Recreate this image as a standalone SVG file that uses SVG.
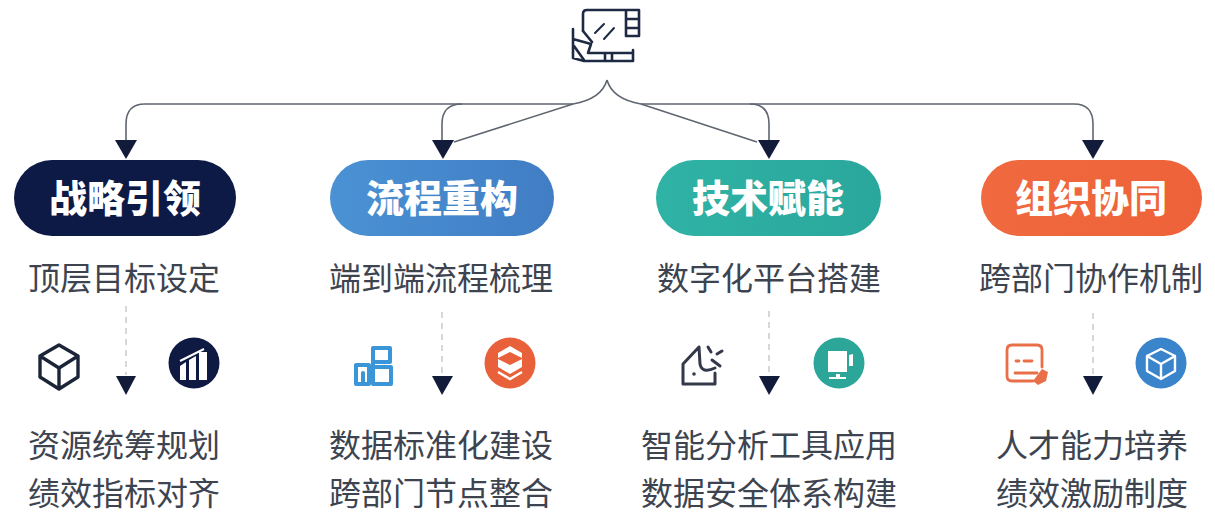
<svg xmlns="http://www.w3.org/2000/svg" width="1215" height="522" viewBox="0 0 1215 522">
<style>
text{font-family:"Noto Sans CJK SC","Noto Sans",sans-serif;text-anchor:middle}
.t{font-size:38px;font-weight:900;fill:#fff}
.s{font-size:32px;font-weight:400;fill:#3d4450}
.c{fill:none;stroke:#5f6670;stroke-width:1.6}
.d{fill:none;stroke:#c4c8cc;stroke-width:1.4;stroke-dasharray:6 5}
.h{fill:#121b3a}
.i{fill:none;stroke-linejoin:round;stroke-linecap:round}
</style>
<defs>
<linearGradient id="gb" x1="0" x2="1" y1="0" y2="0"><stop offset="0" stop-color="#4a92d4"/><stop offset="1" stop-color="#417dc4"/></linearGradient>
<linearGradient id="gt" x1="0" x2="1" y1="0" y2="0"><stop offset="0" stop-color="#2fb3a5"/><stop offset="1" stop-color="#2aa79c"/></linearGradient>
<linearGradient id="go" x1="0" x2="1" y1="0" y2="0"><stop offset="0" stop-color="#f0693f"/><stop offset="1" stop-color="#ee6239"/></linearGradient>
</defs>
<rect width="1215" height="522" fill="#fff"/>
<g id="connectors">
<path class="c" d="M607 80C603 94 590 101 573 104H145Q126 104 126 124V142"/>
<path class="c" d="M462 104Q442 104 442 124V142"/>
<path class="c" d="M573 104L454 142"/>
<path class="c" d="M607 80C611 94 624 101 641 104H1074Q1093 104 1093 124V142"/>
<path class="c" d="M750 104Q769 104 769 124V142"/>
<path class="c" d="M641 104L757 142"/>
<path class="h" d="M115 140H137L126 159Z"/>
<path class="h" d="M432 140H454L443 159Z"/>
<path class="h" d="M758 140H780L769 159Z"/>
<path class="h" d="M1082 140H1104L1093 159Z"/>
<path class="d" d="M126 306V375"/><path class="d" d="M442 312V375"/><path class="d" d="M769 311V375"/><path class="d" d="M1093 313V375"/>
<path class="h" d="M116 376H136L126 395Z"/>
<path class="h" d="M432 376H453L442 395Z"/>
<path class="h" d="M759 376H780L769 395Z"/>
<path class="h" d="M1083 376H1103L1093 395Z"/>
</g>
<g id="top-icon" class="i" stroke="#1e2a44" stroke-width="2.6">
<path d="M583 31V14Q583 10 587 10H639V36H626V10M626 19H639M626 28H639"/>
<path d="M583 31L592 42"/>
<path d="M595 33L604 24M604 39L614 28" stroke-width="2"/>
<path d="M573 29V58L584 61H633V50M573 39L591 44L588 53H633M574 46L584 60M605 54V61M612 54V61"/>
</g>
<g id="node-strategy">
<rect x="14" y="160" width="222" height="76" rx="38" fill="#0d1a45"/>
<text class="t" x="125" y="212">战略引领</text>
<text class="s" x="124" y="290">顶层目标设定</text>
<g class="i" stroke="#1c2438" stroke-width="3.4"><path d="M59 345L78 356V377L59 389L40 377V356ZM40 356L59 368L78 356M59 368V389"/></g>
<circle cx="194" cy="363" r="25.5" fill="#0e1a42"/>
<path fill="#fff" d="M180 366L186 362V380H180ZM189 360L196 356V380H189ZM199 352H207V380H199Z"/>
<path d="M180 361L204 349" stroke="#fff" stroke-width="2" fill="none"/>
<text class="s" x="124" y="457">资源统筹规划</text>
<text class="s" x="124" y="505">绩效指标对齐</text>
</g>
<g id="node-process">
<rect x="330" y="160" width="224" height="76" rx="38" fill="url(#gb)"/>
<text class="t" x="442" y="212">流程重构</text>
<text class="s" x="441" y="290">端到端流程梳理</text>
<g class="i" stroke="#3a96d6" stroke-width="4"><path d="M356 384V365H369V384H356M363 373V384M373 384V348H390V362H373M373 367H391V384H373"/></g>
<circle cx="510" cy="363" r="25.5" fill="#e9613a"/>
<path fill="#fff" d="M510 346L522 353V358L510 352L498 358V353Z"/>
<path fill="#fff" d="M498 359L510 365L522 359V367L510 374L498 367Z"/>
<path fill="none" stroke="#fff" stroke-width="2.4" d="M498 372L510 379L522 372"/>
<text class="s" x="441" y="457">数据标准化建设</text>
<text class="s" x="441" y="505">跨部门节点整合</text>
</g>
<g id="node-tech">
<rect x="656" y="160" width="225" height="76" rx="38" fill="url(#gt)"/>
<text class="t" x="768" y="212">技术赋能</text>
<text class="s" x="769" y="290">数字化平台搭建</text>
<g class="i" stroke="#33394a" stroke-width="3"><path d="M699 347L683 364V384H715V373M699 347L700 364Q702 374 715 368M708 347L711 352M717 354L722 351M712 360L720 366"/></g>
<circle cx="694" cy="374" r="1.8" fill="#33394a"/>
<circle cx="839" cy="363" r="25.5" fill="#2ba698"/>
<path fill="#fff" d="M828 351H847V372H828ZM849 355L853 354V366H849ZM836 374H840V377H846V379H829V377H836Z"/>
<text class="s" x="769" y="457">智能分析工具应用</text>
<text class="s" x="769" y="505">数据安全体系构建</text>
</g>
<g id="node-org">
<rect x="981" y="160" width="221" height="76" rx="38" fill="url(#go)"/>
<text class="t" x="1091" y="212">组织协同</text>
<text class="s" x="1091" y="290">跨部门协作机制</text>
<g class="i" stroke="#e86f47" stroke-width="2.8"><path d="M1033 381H1012Q1007 381 1007 376V350Q1007 345 1012 345H1037Q1042 345 1042 350V367M1016 361H1019M1024 361H1032M1015 373H1037"/></g>
<path fill="#e86f47" d="M1033 381L1042 369L1048 372L1046 381L1038 385Z"/>
<circle cx="1161" cy="363" r="25.5" fill="#3a84cc"/>
<g class="i" stroke="#fff" stroke-width="2.4"><path d="M1161 349L1175 356V371L1161 379L1147 371V356ZM1147 356L1161 364L1175 356M1161 364V379"/></g>
<text class="s" x="1092" y="457">人才能力培养</text>
<text class="s" x="1092" y="505">绩效激励制度</text>
</g>
</svg>
